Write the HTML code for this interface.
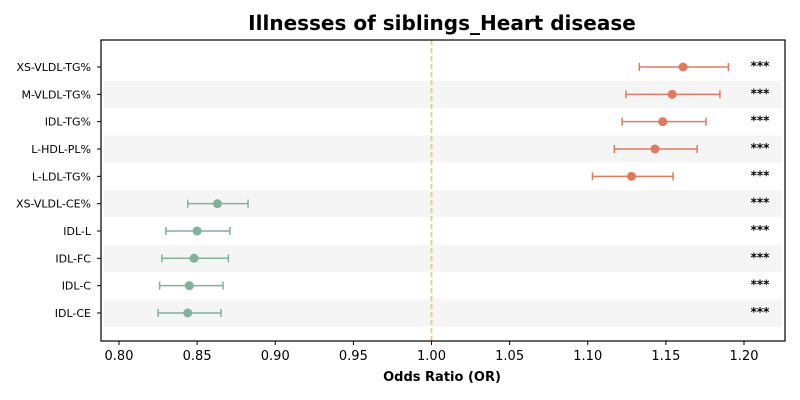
<!DOCTYPE html>
<html><head><meta charset="utf-8"><style>
body{margin:0;background:#fff;}
svg{display:block;font-family:"DejaVu Sans","Liberation Sans",sans-serif;}
</style></head><body>
<svg id="c" width="800" height="400"></svg>
<script>
const labels=["XS-VLDL-TG%","M-VLDL-TG%","IDL-TG%","L-HDL-PL%","L-LDL-TG%","XS-VLDL-CE%","IDL-L","IDL-FC","IDL-C","IDL-CE"];
const orVals=[1.161,1.154,1.148,1.143,1.128,0.863,0.850,0.848,0.845,0.844];
const ciLow=[1.133,1.1245,1.122,1.117,1.103,0.844,0.830,0.8275,0.826,0.825];
const ciHigh=[1.190,1.1846,1.1757,1.170,1.1546,0.8826,0.871,0.870,0.8666,0.8653];
const sig=["***","***","***","***","***","***","***","***","***","***"];
const xTicks=[0.80,0.85,0.90,0.95,1.00,1.05,1.10,1.15,1.20];
const L=101,R=785,T=40,B=341;
const x=v=>119+(v-0.80)*1562.5;
const y=i=>67+i*27.33;
const svg=document.getElementById('c');
const NS="http://www.w3.org/2000/svg";
function mk(tag,a,txt){const e=document.createElementNS(NS,tag);for(const k in a)e.setAttribute(k,a[k]);if(txt!==undefined)e.textContent=txt;svg.appendChild(e);return e;}
let e;
e=mk('text',{x:442,y:30,'text-anchor':'middle','font-size':20,'font-weight':'bold',fill:'#000'},'Illnesses of siblings_Heart disease');


labels.forEach((l,i)=>{
 if(i%2==1){e=mk('rect',{x:L+3,y:y(i)-13.5,width:R-L-6,height:27,fill:'#f5f5f5'});
 
 }
});
e=mk('line',{x1:x(1),x2:x(1),y1:T,y2:B,stroke:'#f2c77e','stroke-width':1.8,'stroke-dasharray':'5,3'});


labels.forEach((l,i)=>{
 const c=orVals[i]>1?'#e07a5f':'#81b29a';
 const yy=y(i);
 e=mk('line',{x1:x(ciLow[i]),x2:x(ciHigh[i]),y1:yy,y2:yy,stroke:c,'stroke-width':1.5});
 
 
 [ciLow[i],ciHigh[i]].forEach(v=>{e=mk('line',{x1:x(v),x2:x(v),y1:yy-4,y2:yy+4,stroke:c,'stroke-width':1.5});
 
 });
 e=mk('circle',{cx:x(orVals[i]),cy:yy,r:4.5,fill:c});
 
 
 e=mk('text',{x:760,y:yy+3,'text-anchor':'middle','font-size':12,'font-weight':'bold'},sig[i]);
 
 
 e=mk('text',{x:L-10,y:yy+4,'text-anchor':'end','font-size':11},l);
 
 
 e=mk('line',{x1:L-4,x2:L,y1:yy,y2:yy,stroke:'#000','stroke-width':1});
 
 
});
xTicks.forEach(v=>{
 e=mk('line',{x1:x(v),x2:x(v),y1:B,y2:B+4,stroke:'#000'});
 
 
 e=mk('text',{x:x(v),y:B+19,'text-anchor':'middle','font-size':13},v.toFixed(2));
 
 
});
e=mk('rect',{x:L,y:T,width:R-L,height:B-T,fill:'none',stroke:'#000','stroke-width':1.2});


e=mk('text',{x:442,y:381,'text-anchor':'middle','font-size':13,'font-weight':'bold'},'Odds Ratio (OR)');


</script>
</body></html>
